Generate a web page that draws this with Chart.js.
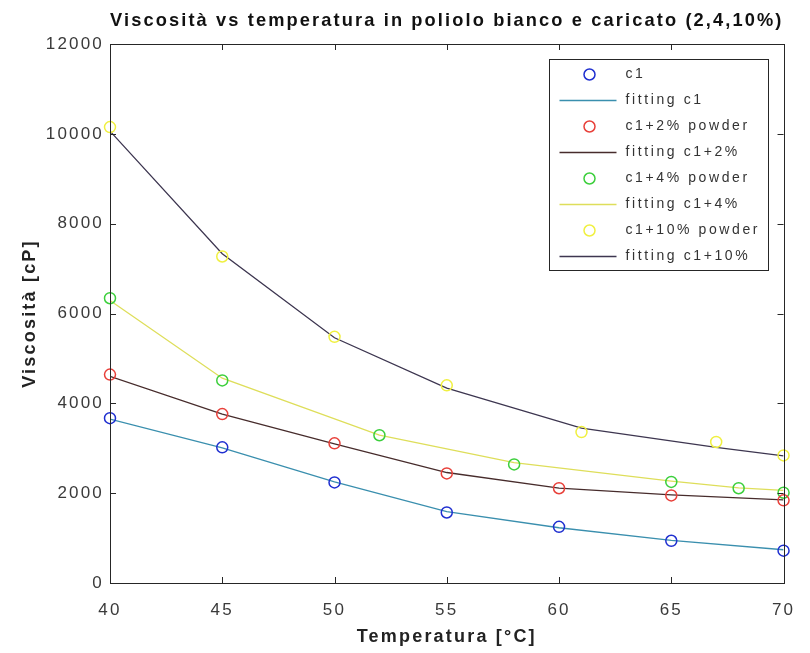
<!DOCTYPE html>
<html>
<head>
<meta charset="utf-8">
<script src="https://cdn.jsdelivr.net/npm/chart.js@4.4.1/dist/chart.umd.min.js"></script>
<style>
  html, body { margin: 0; padding: 0; background: #fff; }
</style>
</head>
<body>
<canvas id="viscChart" width="810" height="653"></canvas>
<script>
// temperature points for each sample
const temps = [40, 45, 50, 55, 60, 65, 70];
const temps4 = [40, 45, 52, 58, 65, 68, 70];
const temps10 = [40, 45, 50, 55, 61, 67, 70];

// measured viscosity [cP]
const c1 = [3670, 3020, 2240, 1570, 1250, 940, 720];
const c1p2 = [4640, 3760, 3110, 2440, 2110, 1950, 1840];
const c1p4 = [6340, 4510, 3290, 2640, 2250, 2110, 2010];
const c1p10 = [10150, 7270, 5480, 4400, 3360, 3140, 2840];

// fitted curves
const fitC1 = [3650, 3010, 2250, 1590, 1230, 950, 740];
const fitC1p2 = [4600, 3760, 3100, 2460, 2110, 1960, 1850];
const fitC1p4 = [6290, 4560, 3290, 2680, 2270, 2120, 2060];
const fitC1p10 = [10060, 7330, 5460, 4340, 3450, 3020, 2830];

const labels = ['c1', 'fitting c1', 'c1+2% powder', 'fitting c1+2%',
                'c1+4% powder', 'fitting c1+4%', 'c1+10% powder', 'fitting c1+10%'];

const FONT = '"Liberation Sans", Arial, sans-serif';
const AXIS_COLOR = '#262626';

const pts = (xs, ys) => xs.map((x, i) => ({ x: x, y: ys[i] }));

function markers(label, xs, ys, color) {
    return {
        label: label,
        data: pts(xs, ys),
        showLine: false,
        pointStyle: 'circle',
        pointRadius: 5.5,
        pointBorderWidth: 1.5,
        borderColor: color,
        pointBorderColor: color,
        pointBackgroundColor: 'rgba(0,0,0,0)',
        clip: false
    };
}

function fitLine(label, xs, ys, color) {
    return {
        label: label,
        data: pts(xs, ys),
        showLine: true,
        pointRadius: 0,
        borderWidth: 1.3,
        borderColor: color,
        tension: 0
    };
}

// box round the axes with MATLAB style inner ticks
const axesBox = {
    id: 'axesBox',
    beforeDraw(chart) {
        chart.ctx.letterSpacing = '2.2px';
    },
    afterDatasetsDraw(chart) {
        const { ctx, chartArea: a, scales: { x, y } } = chart;
        ctx.save();
        ctx.strokeStyle = AXIS_COLOR;
        ctx.lineWidth = 1;
        ctx.beginPath();
        x.ticks.forEach(t => {
            const px = Math.round(x.getPixelForValue(t.value)) + 0.5;
            ctx.moveTo(px, a.bottom); ctx.lineTo(px, a.bottom - 6);
            ctx.moveTo(px, a.top); ctx.lineTo(px, a.top + 6);
        });
        y.ticks.forEach(t => {
            const py = Math.round(y.getPixelForValue(t.value)) + 0.5;
            ctx.moveTo(a.left, py); ctx.lineTo(a.left + 6, py);
            ctx.moveTo(a.right, py); ctx.lineTo(a.right - 6, py);
        });
        ctx.stroke();
        ctx.strokeRect(Math.round(a.left) + 0.5, Math.round(a.top) + 0.5,
                       Math.round(a.right - a.left), Math.round(a.bottom - a.top));
        ctx.restore();
    }
};

// legend in a box inside the top right corner of the plot
const boxLegend = {
    id: 'boxLegend',
    afterDraw(chart) {
        const { ctx, chartArea: a } = chart;
        const sets = chart.data.datasets;
        const w = 219, rowH = 26;
        const left = Math.round(a.right - 16 - w) + 0.5;
        const top = Math.round(a.top + 15) + 0.5;
        const h = rowH * sets.length + 3;
        ctx.save();
        ctx.fillStyle = '#fff';
        ctx.fillRect(left, top, w, h);
        ctx.strokeStyle = AXIS_COLOR;
        ctx.lineWidth = 1;
        ctx.strokeRect(left, top, w, h);
        ctx.letterSpacing = '2.6px';
        ctx.font = '14px ' + FONT;
        ctx.textBaseline = 'middle';
        ctx.textAlign = 'left';
        sets.forEach((ds, i) => {
            const cy = top + 15 + i * rowH;
            ctx.strokeStyle = ds.borderColor;
            if (ds.showLine) {
                ctx.lineWidth = ds.borderWidth;
                ctx.beginPath();
                ctx.moveTo(left + 10, cy);
                ctx.lineTo(left + 67, cy);
                ctx.stroke();
            } else {
                ctx.lineWidth = ds.pointBorderWidth;
                ctx.beginPath();
                ctx.arc(left + 40, cy, ds.pointRadius, 0, Math.PI * 2);
                ctx.stroke();
            }
            ctx.fillStyle = '#333';
            ctx.fillText(ds.label, left + 76, cy);
        });
        ctx.restore();
    }
};

const ctx = document.getElementById('viscChart').getContext('2d');
new Chart(ctx, {
    type: 'scatter',
    data: {
        datasets: [
            markers(labels[0], temps, c1, '#1f2fd0'),
            fitLine(labels[1], temps, fitC1, '#3a8fae'),
            markers(labels[2], temps, c1p2, '#e8403a'),
            fitLine(labels[3], temps, fitC1p2, '#472c2c'),
            markers(labels[4], temps4, c1p4, '#3ccf3c'),
            fitLine(labels[5], temps4, fitC1p4, '#dede5a'),
            markers(labels[6], temps10, c1p10, '#f0f040'),
            fitLine(labels[7], temps10, fitC1p10, '#3d3650')
        ]
    },
    options: {
        responsive: false,
        animation: false,
        devicePixelRatio: 1,
        layout: { padding: { left: 0, right: 15, top: 0, bottom: 0 } },
        plugins: {
            legend: { display: false },
            tooltip: { enabled: false },
            title: {
                display: true,
                fullSize: false,
                text: 'Viscosità vs temperatura in poliolo bianco e caricato (2,4,10%)',
                color: '#111',
                font: { family: FONT, size: 19, weight: 'bold' },
                padding: { top: 9.6, bottom: 11.6 }
            }
        },
        scales: {
            x: {
                type: 'linear',
                min: 40,
                max: 70,
                ticks: { stepSize: 5, color: '#3a3a3a', padding: 17,
                         font: { family: FONT, size: 17 } },
                grid: { display: false, drawTicks: false },
                border: { display: false },
                title: { display: true, text: 'Temperatura [°C]', color: '#222',
                         font: { family: FONT, size: 18, weight: 'bold' },
                         padding: { top: 0, bottom: 5 } },
                afterFit: s => { s.height = 70; }
            },
            y: {
                min: 0,
                max: 12000,
                ticks: { stepSize: 2000, color: '#3a3a3a', padding: 6,
                         font: { family: FONT, size: 17 },
                         callback: v => String(v) },
                grid: { display: false, drawTicks: false },
                border: { display: false },
                title: { display: true, text: 'Viscosità [cP]', color: '#222',
                         font: { family: FONT, size: 18, weight: 'bold' },
                         padding: { top: 19, bottom: 0 } },
                afterFit: s => { s.width = 110; }
            }
        }
    },
    plugins: [axesBox, boxLegend]
});
</script>
</body>
</html>
